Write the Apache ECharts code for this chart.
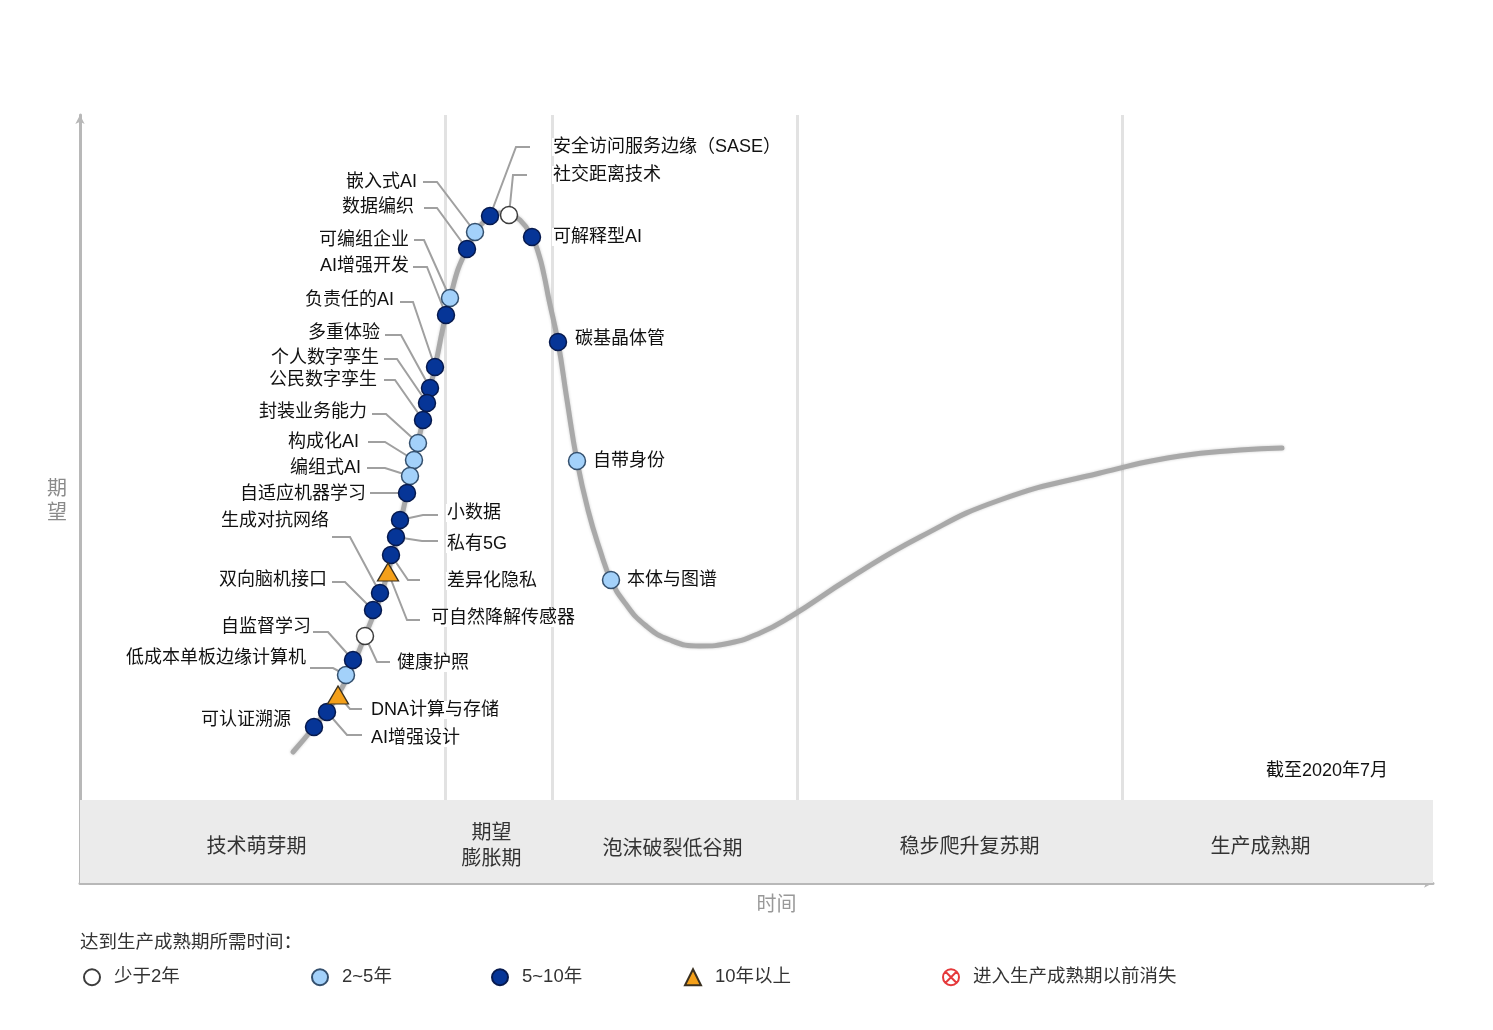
<!DOCTYPE html>
<html><head><meta charset="utf-8">
<script src="https://cdn.jsdelivr.net/npm/echarts@6/dist/echarts.min.js"></script>
<style>html,body{margin:0;padding:0;background:#fff}#c{width:1493px;height:1030px}</style>
</head><body><div id="c"></div>
<script>
// ---- axes extents (time / expectation, arbitrary units) ----
const X_MAX = 135.3, Y_MAX = 76.8, BAND_TOP = 8.3;

// ---- phases ----
const phaseNames = ['技术萌芽期', '期望\n膨胀期', '泡沫破裂低谷期', '稳步爬升复苏期', '生产成熟期'];
const phaseBounds = [0, 36.5, 47.2, 71.7, 104.2, 135.3];

// ---- hype curve ----
const curveX = [21.3, 23.4, 25.8, 28.5, 30.8, 32.7, 34.3, 35.5, 37.0, 38.7, 41.0, 42.0, 42.9, 44.0, 45.2, 45.9, 46.4, 46.9, 47.8, 48.7, 49.7, 50.8, 52.0, 53.1, 54.5, 56.5, 59.0, 62.0, 65.0, 68.0, 71.0, 77.0, 84.0, 92.0, 102.0, 110.0, 116.0, 120.2];
const curveY = [13.1, 15.6, 18.8, 24.7, 31.1, 39.0, 46.3, 51.6, 58.5, 63.4, 66.7, 67.0, 66.8, 66.3, 64.6, 62.8, 60.8, 58.3, 54.1, 48.3, 42.2, 37.3, 33.3, 30.3, 28.0, 25.8, 24.3, 23.7, 24.0, 25.0, 26.6, 30.5, 34.6, 38.3, 41.0, 42.7, 43.3, 43.5];

// ---- technologies ----
const techNames = ['安全访问服务边缘（SASE）', '社交距离技术', '嵌入式AI', '数据编织', '可编组企业', 'AI增强开发', '负责任的AI', '多重体验', '个人数字孪生', '公民数字孪生', '封装业务能力', '构成化AI', '编组式AI', '自适应机器学习', '小数据', '私有5G', '差异化隐私', '可自然降解传感器', '生成对抗网络', '双向脑机接口', '健康护照', '自监督学习', '低成本单板边缘计算机', 'DNA计算与存储', 'AI增强设计', '可认证溯源', '可解释型AI', '碳基晶体管', '自带身份', '本体与图谱'];
const techX = [41.0, 42.9, 39.5, 38.7, 37.0, 36.6, 35.5, 35.0, 34.7, 34.3, 33.8, 33.4, 33.0, 32.7, 32.0, 31.6, 31.1, 30.8, 30.0, 29.3, 28.5, 27.3, 26.6, 25.8, 24.7, 23.4, 45.2, 47.8, 49.7, 53.1];
const techY = [66.7, 66.8, 65.1, 63.4, 58.5, 56.8, 51.6, 49.5, 48.0, 46.3, 44.0, 42.3, 40.7, 39.0, 36.3, 34.6, 32.8, 31.1, 29.0, 27.3, 24.7, 22.3, 20.8, 18.8, 17.1, 15.6, 64.6, 54.1, 42.2, 30.3];
// 0: 少于2年, 1: 2~5年, 2: 5~10年, 3: 10年以上
const techType = [2, 0, 1, 2, 1, 2, 2, 2, 2, 2, 1, 1, 1, 2, 2, 2, 2, 3, 2, 2, 0, 2, 1, 3, 2, 2, 2, 2, 1, 1];

// ---- legend ----
const legendNames = ['少于2年', '2~5年', '5~10年', '10年以上', '进入生产成熟期以前消失'];
const legendTitle = '达到生产成熟期所需时间：';
const dateNote = '截至2020年7月';

// ---- label layout (pixel offsets from marker): textDx, textDy, lineStartDx, kneeDx, lineDy ----
const labelLayout = [
  [62, -69, 40, 26, -69], [43, -40, 18, 4, -40], [-57, -50, -52, -38, -50], [-52, -42, -43, -30, -41],
  [-40, -58, -36, -26, -58], [-36, -49, -33, -19, -48], [-40, -67, -35, -22, -65], [-49, -55, -45, -29, -53],
  [-47, -45, -43, -30, -44], [-45, -40, -39, -28, -40], [-50, -31, -46, -32, -29], [-54, -18, -46, -29, -18],
  [-48, -8, -43, -25, -8], [-40, 1, -37, -10, 0], [46, -7, 38, 23, -5], [50, 7, 42, 26, 4],
  [55, 26, 29, 17, 25], [42, 46, 32, 19, 48], [-50, -72, -48, -30, -56], [-45, -30, -41, -28, -28],
  [31, 27, 25, 12, 26], [-41, -33, -40, -25, -28], [-39, -17, -36, -13, -7], [32, 15, 24, 12, 14],
  [43, 26, 35, 20, 23], [-22, -7, null, null, null], [20, 0, null, null, null], [16, -3, null, null, null],
  [15, 0, null, null, null], [15, 0, null, null, null]
];
const phaseLabelOffset = [[-6, 4], [-7, 3], [-2, 6], [10, 4], [-17, 4]];
const legendLeft = [83, 311, 491, 684, 942];

const FONT = '"Liberation Sans", "Noto Sans CJK SC", sans-serif';
const CJK = '"Noto Sans CJK SC", sans-serif';

const typeStyles = [
  { symbol: 'circle', symbolSize: 17, itemStyle: { color: '#ffffff', borderColor: '#3c3c3c', borderWidth: 1.5, opacity: 1 } },
  { symbol: 'circle', symbolSize: 17, itemStyle: { color: '#a3d1fa', borderColor: '#34506e', borderWidth: 1.5, opacity: 1 } },
  { symbol: 'circle', symbolSize: 17, itemStyle: { color: '#063597', borderColor: '#071a4e', borderWidth: 1.5, opacity: 1 } },
  { symbol: 'triangle', symbolSize: [21, 18], itemStyle: { color: '#f4a01a', borderColor: '#3a3020', borderWidth: 1.3, opacity: 1 } }
];

const chart = echarts.init(document.getElementById('c'), null, { renderer: 'canvas' });

const markerSeries = typeStyles.map((st, t) => ({
  name: legendNames[t],
  type: 'scatter',
  z: 5,
  symbol: st.symbol,
  symbolSize: st.symbolSize,
  itemStyle: st.itemStyle,
  data: techX.map((x, i) => ({ name: techNames[i], value: [x, techY[i]], t: techType[i] }))
    .filter(d => d.t === t).map(d => ({ name: d.name, value: d.value })),
  silent: true
}));

const phaseAreas = phaseNames.map((n, i) => ([
  { name: n, xAxis: phaseBounds[i], yAxis: 0,
    label: { offset: phaseLabelOffset[i] } },
  { xAxis: phaseBounds[i + 1], yAxis: BAND_TOP }
]));

const dividerLines = phaseBounds.slice(1, -1).map(b => ([
  { coord: [b, BAND_TOP] }, { coord: [b, Y_MAX] }
]));

const option = {
  animation: false,
  backgroundColor: '#ffffff',
  title: [
    { text: dateNote, left: 1266, top: 762, padding: 0,
      textStyle: { fontSize: 18, fontWeight: 'normal', color: '#111', fontFamily: FONT } },
    { text: legendTitle, left: 80, top: 932, padding: 0,
      textStyle: { fontSize: 18.5, fontWeight: 'normal', color: '#333', fontFamily: CJK } }
  ],
  legend: legendNames.map((n, i) => ({
    data: [n], left: legendLeft[i], top: 968, padding: 0,
    itemWidth: 16, itemHeight: 16, selectedMode: false,
    textStyle: { fontSize: 18.5, color: '#333', fontFamily: FONT, padding: [0, 0, 0, 9] }
  })),
  grid: { left: 80, top: 115, width: 1353, height: 768 },
  xAxis: {
    type: 'value', min: 0, max: X_MAX,
    name: '时间', nameLocation: 'middle', nameGap: 10,
    nameTextStyle: { fontSize: 20, color: '#999', fontFamily: CJK, verticalAlign: 'top', padding: [0, 0, 0, 40] },
    axisLine: { show: true, symbol: ['none', 'arrow'], symbolSize: [7, 9], lineStyle: { color: '#b8b8b8', width: 3 } },
    axisTick: { show: false }, axisLabel: { show: false }, splitLine: { show: false }
  },
  yAxis: {
    type: 'value', min: 0, max: Y_MAX,
    name: '期\n望', nameLocation: 'middle', nameGap: 13, nameRotate: 0,
    nameTextStyle: { fontSize: 20, color: '#8a8a8a', fontFamily: CJK, lineHeight: 24, align: 'right', padding: [0, 0, 20, 0] },
    axisLine: { show: true, symbol: ['none', 'arrow'], symbolSize: [7, 9], lineStyle: { color: '#b8b8b8', width: 3 } },
    axisTick: { show: false }, axisLabel: { show: false }, splitLine: { show: false }
  },
  series: [
    {
      type: 'line', name: 'curve', z: 2, silent: true,
      data: curveX.map((x, i) => [x, curveY[i]]),
      smooth: 0.5, showSymbol: false, symbol: 'none',
      lineStyle: { color: '#a9a9a9', width: 5, shadowBlur: 3, shadowColor: 'rgba(0,0,0,0.2)', cap: 'round' },
      markArea: {
        silent: true, z: 1,
        itemStyle: { color: '#ebebeb' },
        label: { show: true, position: 'inside', fontSize: 20, color: '#333', fontFamily: CJK, lineHeight: 26 },
        data: phaseAreas
      },
      markLine: {
        silent: true, symbol: 'none', z: 1,
        lineStyle: { color: '#e2e2e2', width: 3, type: 'solid' },
        label: { show: false },
        data: dividerLines
      }
    },
    {
      type: 'custom', name: 'labels', z: 3, silent: true,
      data: techX.map((x, i) => [x, techY[i]]),
      encode: { x: 0, y: 1 },
      renderItem: function (params, api) {
        const i = params.dataIndex;
        const p = api.coord([api.value(0), api.value(1)]);
        const L = labelLayout[i];
        const children = [];
        if (L[2] !== null) {
          children.push({
            type: 'polyline',
            shape: { points: [[p[0] + L[2], p[1] + L[4]], [p[0] + L[3], p[1] + L[4]], [p[0], p[1]]] },
            style: { stroke: '#a0a0a0', lineWidth: 2, fill: null }
          });
        }
        children.push({
          type: 'text', x: p[0] + L[0], y: p[1] + L[1],
          style: { text: techNames[i], fill: '#111', fontSize: 18, fontFamily: FONT,
            align: L[0] < 0 ? 'right' : 'left', verticalAlign: 'middle',
            backgroundColor: '#ffffff', padding: [0, 1] }
        });
        return { type: 'group', children: children };
      }
    },
    ...markerSeries,
    {
      name: legendNames[4], type: 'scatter', data: [],
      symbol: 'path://M0,-10 A10,10 0 1,1 0,10 A10,10 0 1,1 0,-10 Z M-6.5,-6.5 L6.5,6.5 M6.5,-6.5 L-6.5,6.5',
      itemStyle: { color: '#ffffff', borderColor: '#e5393b', borderWidth: 1.6, opacity: 1 }
    }
  ]
};
chart.setOption(option);
</script>
</body></html>
